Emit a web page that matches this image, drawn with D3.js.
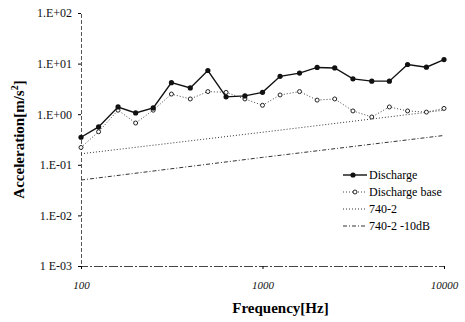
<!DOCTYPE html>
<html>
<head>
<meta charset="utf-8">
<script src="https://cdn.jsdelivr.net/npm/d3@7"></script>
<style>
  body { margin: 0; background: #fff; }
  text { font-family: "Liberation Serif", "DejaVu Serif", serif; }
</style>
</head>
<body>
<div id="chart"></div>
<script>
// 1/3-octave band centre frequencies
const freqs = [100, 125, 160, 200, 250, 315, 400, 500, 630, 800, 1000,
    1250, 1600, 2000, 2500, 3150, 4000, 5000, 6300, 8000, 10000];
const discharge = [0.35, 0.56, 1.39, 1.06, 1.33, 4.2, 3.3, 7.3, 2.2, 2.3, 2.7,
    5.6, 6.5, 8.4, 8.2, 5.0, 4.5, 4.5, 9.6, 8.5, 12];
const dischargeBase = [0.22, 0.45, 1.2, 0.67, 1.2, 2.5, 2.0, 2.8, 2.7, 2.0, 1.5,
    2.4, 2.8, 1.9, 2.0, 1.16, 0.88, 1.39, 1.16, 1.1, 1.3];
const specFreqs = [100, 1000, 10000];
const spec740 = [0.165, 0.44, 1.2];
const spec740m10 = [0.05, 0.14, 0.38];
const yTickValues = [1e2, 1e1, 1e0, 1e-1, 1e-2, 1e-3];
const yTickLabels = ["1.E+02", "1.E+01", "1.E+00", "1.E-01", "1.E-02", "1 E-03"];
const xTickValues = [100, 1000, 10000];
const xTickLabels = ["100", "1000", "10000"];

var margin = { top: 13, right: 21, bottom: 56, left: 81 },
    width = 465 - margin.left - margin.right,
    height = 322 - margin.top - margin.bottom;

var svg = d3.select("#chart")
    .append("svg")
    .attr("width", 465)
    .attr("height", 322)
    .append("g")
    .attr("transform", "translate(" + margin.left + "," + margin.top + ")");

var x = d3.scaleLog().domain([100, 10000]).range([0, width]);
var y = d3.scaleLog().domain([1e-3, 1e2]).range([height, 0]);

// axes
var yAxis = svg.append("g")
    .call(d3.axisLeft(y).tickValues(yTickValues)
        .tickFormat((d, i) => yTickLabels[i]).tickSize(3).tickPadding(6));
yAxis.select(".domain").attr("stroke", "#555").attr("stroke-dasharray", "4,2");
yAxis.selectAll("text").attr("font-size", 12).attr("fill", "#111")
    .style("font-family", "Liberation Serif");

var xAxis = svg.append("g")
    .attr("transform", "translate(0," + height + ")")
    .call(d3.axisBottom(x).tickValues(xTickValues)
        .tickFormat((d, i) => xTickLabels[i]).tickSize(3).tickPadding(12));
xAxis.select(".domain").attr("stroke", "#444").attr("stroke-dasharray", "9,2,2,2");
xAxis.selectAll("text").attr("font-size", 11).attr("font-style", "italic")
    .attr("fill", "#111").style("font-family", "Liberation Serif");

// series
const line = d3.line().x(d => x(d[0])).y(d => y(d[1]));

svg.append("path")
    .datum(d3.zip(specFreqs, spec740m10))
    .attr("fill", "none").attr("stroke", "#333").attr("stroke-width", 1)
    .attr("stroke-dasharray", "4,2,1,2")
    .attr("d", line);

svg.append("path")
    .datum(d3.zip(specFreqs, spec740))
    .attr("fill", "none").attr("stroke", "#333").attr("stroke-width", 1)
    .attr("stroke-dasharray", "1,2")
    .attr("d", line);

svg.append("path")
    .datum(d3.zip(freqs, dischargeBase))
    .attr("fill", "none").attr("stroke", "#444").attr("stroke-width", 1)
    .attr("stroke-dasharray", "1,2")
    .attr("d", line);

svg.selectAll(".base")
    .data(d3.zip(freqs, dischargeBase))
    .enter().append("circle")
    .attr("cx", d => x(d[0])).attr("cy", d => y(d[1])).attr("r", 2)
    .attr("fill", "#fff").attr("stroke", "#222").attr("stroke-width", 1);

svg.append("path")
    .datum(d3.zip(freqs, discharge))
    .attr("fill", "none").attr("stroke", "#111").attr("stroke-width", 1.4)
    .attr("d", line);

svg.selectAll(".dis")
    .data(d3.zip(freqs, discharge))
    .enter().append("circle")
    .attr("cx", d => x(d[0])).attr("cy", d => y(d[1])).attr("r", 2.6)
    .attr("fill", "#111");

// axis titles
svg.append("text")
    .attr("x", width / 2 + 18).attr("y", height + 47)
    .attr("text-anchor", "middle").attr("font-size", 15).attr("font-weight", "bold")
    .text("Frequency[Hz]");

svg.append("text")
    .attr("transform", "translate(" + (-57) + "," + (height / 2) + ") rotate(-90)")
    .attr("text-anchor", "middle").attr("font-size", 15).attr("font-weight", "bold")
    .text("Acceleration[m/s")
    .append("tspan").attr("font-size", 10).attr("dy", -6).text("2")
    .select(function () { return this.parentNode; })
    .append("tspan").attr("dy", 6).text("]");

// legend
const legendNames = ["Discharge", "Discharge base", "740-2", "740-2 -10dB"];
var legend = svg.append("g").attr("transform", "translate(262,162)");
legendNames.forEach(function (name, i) {
    var g = legend.append("g").attr("transform", "translate(0," + (i * 17) + ")");
    if (i == 0) {
        g.append("line").attr("x1", 0).attr("x2", 24).attr("stroke", "#111").attr("stroke-width", 1.4);
        g.append("circle").attr("cx", 10).attr("r", 2.6).attr("fill", "#111");
    } else if (i == 1) {
        g.append("line").attr("x1", 0).attr("x2", 24).attr("stroke", "#444")
            .attr("stroke-dasharray", "1,2");
        g.append("circle").attr("cx", 12).attr("r", 2).attr("fill", "#fff").attr("stroke", "#222");
    } else {
        g.append("line").attr("x1", 0).attr("x2", 24).attr("stroke", "#333")
            .attr("stroke-dasharray", i == 2 ? "1,2" : "4,2,1,2");
    }
    g.append("text").attr("x", 26).attr("y", 4).attr("font-size", 12).text(name);
});
</script>
</body>
</html>
